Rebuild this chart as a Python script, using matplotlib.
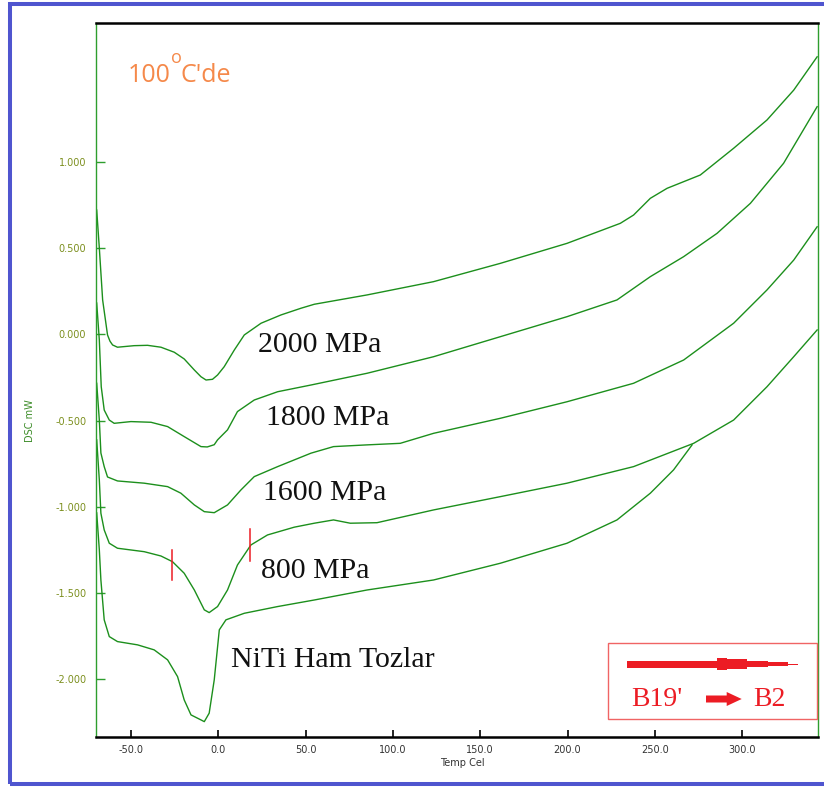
import matplotlib.pyplot as plt
from matplotlib.patches import Polygon, Rectangle

# DSC traces: temperature (Cel) and heat flow (mW)
t_2000 = [-69.6, -68.1, -66.2, -63.4, -62.0, -60.5, -57.7, -48.1, -40.5, -32.8, -25.2, -19.5,
          -13.7, -9.9, -7.0, -3.3, -0.4, 3.4, 9.2, 14.9, 24.5, 35.9, 47.4, 55.0, 85.2, 123.3,
          161.5, 199.7, 230.2, 237.8, 247.4, 257.0, 276.0, 295.1, 314.2, 329.5, 342.9]
q_2000 = [0.720, 0.500, 0.199, -0.004, -0.040, -0.062, -0.075, -0.066, -0.064, -0.075, -0.104,
          -0.143, -0.207, -0.246, -0.265, -0.261, -0.236, -0.188, -0.091, -0.004, 0.064, 0.112,
          0.151, 0.174, 0.228, 0.305, 0.411, 0.527, 0.643, 0.691, 0.788, 0.846, 0.923, 1.078,
          1.242, 1.415, 1.608]

t_1800 = [-69.6, -68.1, -67.0, -65.3, -62.4, -59.6, -50.0, -38.5, -29.0, -19.5, -9.9, -6.3,
          -2.3, -0.4, 5.3, 11.0, 20.6, 34.0, 53.1, 85.2, 123.3, 161.5, 199.7, 228.3, 247.4,
          266.5, 285.6, 304.7, 323.7, 342.9]
q_1800 = [0.181, -0.033, -0.304, -0.439, -0.497, -0.516, -0.506, -0.510, -0.535, -0.593,
          -0.651, -0.653, -0.640, -0.612, -0.554, -0.448, -0.381, -0.333, -0.294, -0.226,
          -0.130, -0.014, 0.102, 0.199, 0.334, 0.450, 0.585, 0.759, 0.991, 1.319]

t_1600 = [-69.6, -68.1, -67.2, -65.3, -63.4, -57.7, -42.4, -29.0, -21.4, -13.7, -8.0, -2.3,
          5.3, 13.0, 20.6, 34.0, 53.1, 66.0, 85.2, 104.2, 123.3, 161.5, 199.7, 237.8, 266.5,
          295.1, 314.2, 329.5, 342.9]
q_1600 = [-0.284, -0.497, -0.688, -0.767, -0.827, -0.850, -0.863, -0.883, -0.921, -0.989,
          -1.028, -1.034, -0.989, -0.902, -0.825, -0.767, -0.689, -0.651, -0.641, -0.632,
          -0.574, -0.487, -0.391, -0.284, -0.149, 0.064, 0.257, 0.430, 0.623]

t_800 = [-69.6, -68.1, -67.2, -65.3, -62.4, -57.7, -42.4, -32.8, -26.2, -19.5, -13.7, -8.0,
         -5.2, -0.4, 5.3, 11.0, 18.7, 28.2, 43.5, 55.0, 66.0, 75.6, 90.9, 123.3, 161.5, 199.7,
         237.8, 272.2, 295.1, 314.2, 329.5, 342.9]
q_800 = [-0.612, -0.844, -1.037, -1.134, -1.211, -1.240, -1.260, -1.285, -1.318, -1.385,
         -1.482, -1.597, -1.613, -1.578, -1.482, -1.337, -1.221, -1.163, -1.118, -1.095,
         -1.076, -1.095, -1.092, -1.018, -0.941, -0.863, -0.767, -0.632, -0.497, -0.304,
         -0.130, 0.025]

t_raw = [-69.6, -68.1, -67.2, -65.3, -62.4, -57.7, -46.2, -36.7, -29.0, -23.3, -19.5, -15.6,
         -9.9, -8.0, -5.2, -2.3, 0.6, 4.4, 14.9, 34.0, 55.0, 85.2, 123.3, 161.5, 199.7, 228.3,
         247.4, 260.7, 271.3]
q_raw = [-1.035, -1.249, -1.424, -1.655, -1.752, -1.781, -1.800, -1.829, -1.887, -1.984,
         -2.119, -2.206, -2.235, -2.245, -2.196, -2.003, -1.713, -1.655, -1.617, -1.578,
         -1.540, -1.482, -1.424, -1.327, -1.211, -1.076, -0.921, -0.786, -0.641]

curve_labels = ["2000 MPa", "1800 MPa", "1600 MPa", "800 MPa", "NiTi Ham Tozlar"]
label_t = [22.5, 27.3, 25.4, 24.5, 7.3]
label_q = [-0.102, -0.526, -0.960, -1.412, -1.927]

# start / end of the transformation peak on the 800 MPa trace
mark_t = [-26.5, 18.3]
mark_lo = [-1.423, -1.313]
mark_hi = [-1.249, -1.128]

y_ticks = [-2.0, -1.5, -1.0, -0.5, 0.0, 0.5, 1.0]
x_ticks = [-50, 0, 50, 100, 150, 200, 250, 300]

line_green = "#1c8f1c"
spine_green = "#2e9e2e"
red = "#ec1c24"
orange = "#f5894a"

fig = plt.figure(figsize=(8.24, 7.87), dpi=100)
ax = fig.add_axes([96 / 824, 1 - 737 / 787, 722 / 824, 714 / 787])

for t, q in [(t_2000, q_2000), (t_1800, q_1800), (t_1600, q_1600), (t_800, q_800), (t_raw, q_raw)]:
    ax.plot(t, q, color=line_green, lw=1.0)

for t, lo, hi in zip(mark_t, mark_lo, mark_hi):
    ax.plot([t, t], [lo, hi], color=red, lw=1.1)

for txt, t, q in zip(curve_labels, label_t, label_q):
    ax.text(t, q, txt, family="Liberation Serif", fontsize=21.5, color="#111111",
            ha="left", va="baseline")

# "100 oC'de" heading with a raised degree "o"
ax.text(32 / 722, 1 - 59 / 714, "100", transform=ax.transAxes,
        family="Open Sans", fontsize=18, color=orange, ha="left", va="baseline")
ax.text(75 / 722, 1 - 40 / 714, "o", transform=ax.transAxes,
        family="Open Sans", fontsize=13, color=orange, ha="left", va="baseline")
ax.text(84 / 722, 1 - 59 / 714, "C'de", transform=ax.transAxes,
        family="Open Sans", fontsize=18, color=orange, ha="left", va="baseline")

ax.set_xlim(-70, 343.4)
ax.set_ylim(-2.334, 1.804)
ax.set_xticks(x_ticks)
ax.set_xticklabels([f"{v:.1f}" for v in x_ticks])
ax.set_yticks(y_ticks)
ax.set_yticklabels([f"{v:.3f}" for v in y_ticks])
ax.tick_params(axis="y", direction="in", length=6.5, width=1.0, color=spine_green,
               labelcolor="#7c8f1e", labelsize=7, pad=7)
ax.tick_params(axis="x", direction="in", length=5, width=1.2, color="black",
               labelcolor="#333333", labelsize=7, pad=6)

for side in ["left", "right"]:
    ax.spines[side].set_color(spine_green)
    ax.spines[side].set_linewidth(1.0)
for side in ["top", "bottom"]:
    ax.spines[side].set_color("black")
    ax.spines[side].set_linewidth(1.8)

fig.text(462 / 824, 1 - 763 / 787, "Temp Cel", fontsize=7, color="#333333",
         ha="center", va="center")
fig.text(30 / 824, 1 - 421 / 787, "DSC mW", fontsize=7, color="#3c8c28",
         rotation=90, ha="center", va="center")

# phase legend box in its own pixel-unit axes
lax = fig.add_axes([608 / 824, 1 - 719 / 787, 209 / 824, 76 / 787])
lax.set_xlim(0, 209)
lax.set_ylim(76, 0)
lax.axis("off")
lax.add_patch(Rectangle((0, 0), 209, 76, fill=False, ec="#f06464", lw=1.0, clip_on=False))
for x0, x1, h in [(18.7, 108.7, 7), (108.7, 118.7, 12.7), (118.7, 138.7, 10),
                  (138.7, 160.3, 6), (160.3, 180.3, 3.7), (180.3, 190.3, 1)]:
    lax.add_patch(Rectangle((x0, 21 - h / 2), x1 - x0, h, color=red, lw=0))
lax.add_patch(Polygon([(98, 52.5), (118.7, 52.5), (118.7, 49), (133.7, 56), (118.7, 63),
                       (118.7, 59.5), (98, 59.5)], closed=True, color=red, lw=0))
lax.text(23.7, 63, "B19'", family="Liberation Serif", fontsize=20, color=red,
         ha="left", va="baseline")
lax.text(145, 63, "B2", family="Liberation Serif", fontsize=20, color=red,
         ha="left", va="baseline")

# blue frame around the whole figure
fig.add_artist(Rectangle((10.3 / 824, 1 - 784 / 787), 830 / 824, 780.3 / 787, fill=False,
                         ec="#4f55cf", lw=2.9, transform=fig.transFigure, clip_on=False))

fig.savefig("out.png", dpi=100)
